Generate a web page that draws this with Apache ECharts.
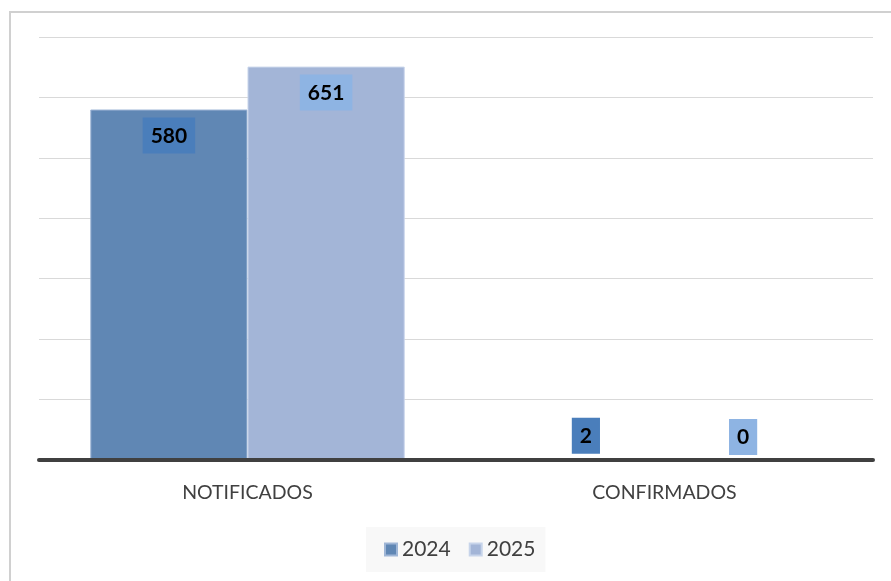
<!DOCTYPE html>
<html>
<head>
<meta charset="utf-8">
<script src="https://cdn.jsdelivr.net/npm/echarts@6/dist/echarts.min.js"></script>
<style>
html, body { margin: 0; padding: 0; background: #fff; }
#chart { width: 891px; height: 581px; }
</style>
</head>
<body>
<div id="chart"></div>
<script>
const categories = ['NOTIFICADOS', 'CONFIRMADOS']
const seriesNames = ['2024', '2025']
const values2024 = [580, 2]
const values2025 = [651, 0]

const font = 'Lato, "Open Sans", sans-serif'

// small bars get their label above the bar, big ones inside
function toItems(values, boxColor) {
  return values.map(v => ({
    value: v,
    itemStyle: v < 50 ? { borderWidth: 0 } : {},
    label: {
      position: v < 50 ? 'top' : 'insideTop',
      distance: v < 50 ? 5 : 8,
      backgroundColor: boxColor
    }
  }))
}

const chart = echarts.init(document.getElementById('chart'))
const option = {
  animation: false,
  textStyle: { fontFamily: font },
  graphic: [{
    type: 'rect',
    shape: { x: 10, y: 12, width: 900, height: 600 },
    style: { fill: 'none', stroke: '#d0d0d0', lineWidth: 2 },
    z: -1
  }],
  grid: {
    left: 39,
    right: 18,
    top: 37,
    bottom: 121
  },
  legend: {
    data: seriesNames,
    left: 366,
    top: 527,
    padding: [12, 10, 12, 18],
    backgroundColor: '#f8f8f8',
    itemWidth: 12,
    itemHeight: 12,
    itemGap: 18,
    icon: 'rect',
    textStyle: { fontSize: 21, color: '#404040', fontFamily: font }
  },
  xAxis: {
    type: 'category',
    data: categories,
    z: 5,
    axisLine: { lineStyle: { color: '#404040', width: 4 } },
    axisTick: { show: false },
    axisLabel: {
      fontSize: 19.5,
      color: '#404040',
      margin: 23,
      fontFamily: font
    }
  },
  yAxis: {
    type: 'value',
    min: 0,
    max: 700,
    interval: 100,
    axisLine: { show: false },
    axisTick: { show: false },
    axisLabel: { show: false },
    splitLine: { lineStyle: { color: '#d9d9d9', width: 1 } }
  },
  series: [{
      name: seriesNames[0],
      type: 'bar',
      barGap: '0%',
      barCategoryGap: '24.6%',
      itemStyle: {
        color: '#6087b4',
        borderColor: '#9fb6d6',
        borderWidth: 1
      },
      label: {
        show: true,
        fontSize: 21,
        fontWeight: 'bold',
        color: '#000',
        padding: [8, 8, 7, 8],
        fontFamily: font
      },
      data: toItems(values2024, '#4a7ebb')
    },
    {
      name: seriesNames[1],
      type: 'bar',
      itemStyle: {
        color: '#a3b5d7',
        borderColor: '#c7d4ea',
        borderWidth: 1
      },
      label: {
        show: true,
        fontSize: 21,
        fontWeight: 'bold',
        color: '#000',
        padding: [8, 8, 7, 8],
        fontFamily: font
      },
      data: toItems(values2025, '#8eb4e3')
    }
  ]
}
chart.setOption(option)
</script>
</body>
</html>
